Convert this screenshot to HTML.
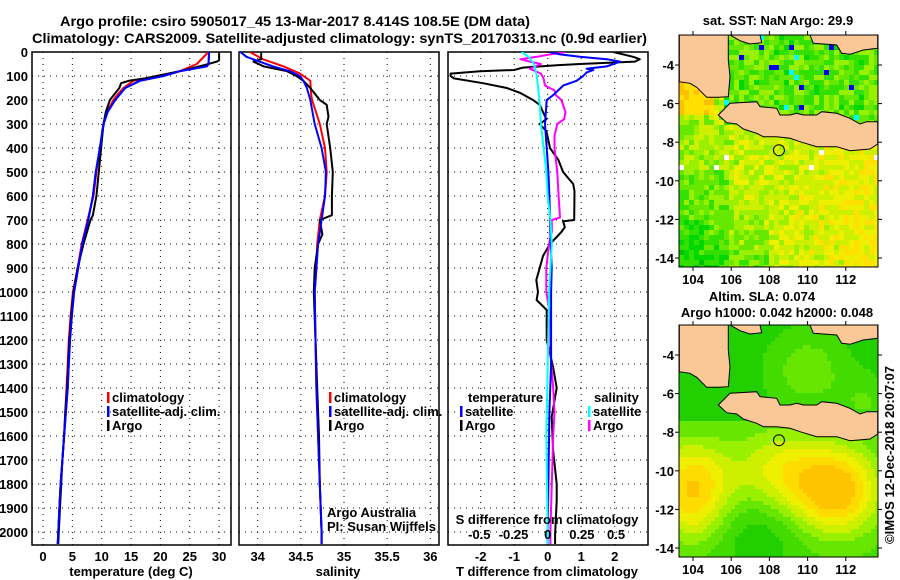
<!DOCTYPE html>
<html><head><meta charset="utf-8">
<style>
html,body{margin:0;padding:0;background:#fff;}
svg{display:block;font-family:"Liberation Sans",sans-serif;}
.b{font-weight:bold;font-size:14px;}
.t{font-weight:bold;font-size:13px;}
</style></head>
<body>
<svg id="chart" width="900" height="580" viewBox="0 0 900 580" xmlns="http://www.w3.org/2000/svg">
<text class="b" x="60" y="26" textLength="470" lengthAdjust="spacingAndGlyphs">Argo profile: csiro 5905017_45 13-Mar-2017 8.414S 108.5E (DM data)</text>
<text class="b" x="32" y="43" textLength="615" lengthAdjust="spacingAndGlyphs">Climatology: CARS2009. Satellite-adjusted climatology: synTS_20170313.nc (0.9d earlier)</text>
<g id="g"></g>
</svg>
<script>
// ---------- data ----------
const depthTicks=[0,100,200,300,400,500,600,700,800,900,1000,1100,1200,1300,1400,1500,1600,1700,1800,1900,2000];
const tTicks=[0,5,10,15,20,25,30];
const sTicks=[34,34.5,35,35.5,36];
const dTTicks=[-2,-1,0,1,2];
const dSTicks=[-0.5,-0.25,0,0.25,0.5];
const dSTickLabels=["-0.5","-0.25","0","0.25","0.5"];

const tArgoDepth=[0,20,35,40,55,80,100,110,120,130,150,200,250,300,400,500,600,680,700,800,900,1000,1100,1200,1300,1400,1500,1600,1700,1800,1900,2000,2050];
const tArgo=[30,30,30,29.6,27.4,23.3,19.4,17.4,14.6,13.3,13,11.4,10.7,10.3,9.9,9.5,9.1,8.5,8.1,6.9,5.9,5.2,4.8,4.5,4.3,4.1,3.8,3.6,3.3,3.1,2.9,2.7,2.6];
const climDepth=[0,50,80,100,120,150,180,200,250,300,400,500,600,700,800,900,1000,1100,1200,1300,1400,1500,1600,1700,1800,1900,2000,2050];
const tClim=[28.2,26.2,23.3,19.4,15.4,13.7,12.6,12,10.9,10.3,9.7,9.1,8.6,7.6,6.6,5.9,5.1,4.7,4.4,4.2,4.0,3.8,3.6,3.3,3.0,2.8,2.6,2.5];
const satDepth=[0,50,60,80,100,120,150,200,250,300,400,500,600,700,800,900,1000,1100,1200,1300,1400,1500,1600,1700,1800,1900,2000,2050];
const tSat=[28.3,28.2,27.9,23.3,20.5,16.5,14,12.3,11,10.3,9.7,9.0,8.5,7.7,6.7,6.0,5.3,4.9,4.6,4.4,4.2,3.9,3.6,3.3,3.0,2.8,2.6,2.5];

const sArgoDepth=[0,30,40,60,80,100,120,150,200,220,270,300,400,500,600,680,700,760,800,900,1000,1200,1400,1600,1800,2000,2050];
const sArgo=[34.04,34.04,33.95,34.07,34.34,34.45,34.53,34.61,34.72,34.8,34.82,34.8,34.84,34.87,34.86,34.86,34.72,34.75,34.70,34.66,34.65,34.67,34.69,34.71,34.72,34.74,34.74];
const sClimDepth=[0,30,60,90,120,180,200,300,400,500,600,700,800,900,1000,1200,1400,1600,1800,2000,2050];
const sClim=[33.91,34.06,34.30,34.49,34.61,34.62,34.63,34.72,34.78,34.8,34.78,34.72,34.69,34.68,34.66,34.67,34.68,34.70,34.72,34.74,34.74];
const sSatDepth=[0,20,40,60,80,100,120,150,200,300,400,500,600,700,800,900,1000,1200,1400,1600,1800,2000,2050];
const sSat=[33.80,33.87,34.02,34.18,34.37,34.49,34.53,34.57,34.61,34.66,34.74,34.79,34.78,34.74,34.70,34.68,34.66,34.67,34.68,34.70,34.72,34.74,34.74];

const dTArgoDepth=[0,20,30,40,50,55,65,75,80,90,100,110,130,150,170,200,220,250,280,300,330,400,450,500,550,580,700,705,730,750,800,850,900,950,1000,1033,1075,1200,1312,1400,1520,1660,1800,1870,2010,2050];
const dTArgo=[1.96,2.55,2.75,2.6,0.96,0.27,-0.74,-1.0,-2.02,-2.9,-2.9,-2.8,-1.93,-1.22,-0.83,-0.44,-0.24,-0.14,-0.04,-0.24,-0.04,0.07,0.32,0.46,0.76,0.8,0.79,0.46,0.51,0.41,0.07,-0.14,-0.24,-0.34,-0.29,-0.33,-0.03,-0.03,0.16,0.27,0.12,0.16,0.27,0.27,0.22,0.22];
const dTSatDepth=[0,10,20,30,40,50,60,70,75,85,100,120,140,180,200,300,400,500,600,700,800,900,1000,1300,1500,2000,2050];
const dTSat=[0.07,0.37,0.96,1.76,2.16,1.96,1.76,1.16,1.36,1.16,1.06,0.86,0.46,0.16,-0.03,-0.08,-0.03,0.02,0.05,0.07,0.09,0.12,0.1,0.1,0.05,0.0,0.0];
const dSArgoDepth=[0,10,20,30,40,50,70,90,110,140,160,180,200,250,280,300,350,400,450,500,600,690,700,750,800,900,1000,1100,1250,1400,1500,1600,1800,2000,2050];
const dSArgo=[0.13,0.02,-0.08,-0.2,-0.13,-0.05,-0.13,-0.05,-0.03,-0.02,0.05,0.06,0.10,0.13,0.12,0.07,0.05,0.05,0.06,0.07,0.08,0.09,0.03,0.03,0.01,-0.01,-0.01,0.02,0.02,0.04,0.05,0.04,0.03,0.02,0.02];
const dSSatDepth=[0,20,50,100,150,200,300,400,500,600,700,800,900,1000,1300,1600,2000,2050];
const dSSat=[-0.19,-0.14,-0.10,-0.08,-0.07,-0.06,-0.05,-0.03,-0.01,0.0,0.02,0.03,0.02,0.01,0.0,-0.01,0.0,0.0];

const lonTicks=[104,106,108,110,112];
const latTicks=[-4,-6,-8,-10,-12,-14];

// ---------- helpers ----------
const NS="http://www.w3.org/2000/svg";
const G=document.getElementById('g');
function el(tag,attrs,parent){const e=document.createElementNS(NS,tag);for(const k in attrs)e.setAttribute(k,attrs[k]);(parent||G).appendChild(e);return e;}
function txt(x,y,s,anchor,cls,parent){const e=el('text',{x:x,y:y,'text-anchor':anchor||'start','class':cls||'t'},parent);e.textContent=s;return e;}
const Y0=52,PY=0.24;
function yD(d){return Y0+d*PY;}
const yBot=545;
const xT=v=>43+v*5.87;
const xS=v=>257.7+(v-34)*86.3;
const xDT=v=>547.7+v*33.5;
const xDS=v=>547.7+v*136.7;

function panel(x0,x1,name,xTicksArr,xfn,labels,showDepth){
  const p=el('g',{});
  
  
  for(const d of depthTicks){ if(d===0) continue;
    const l=el('line',{x1:x0,x2:x1,y1:yD(d),y2:yD(d),stroke:'#000','stroke-width':1,'stroke-dasharray':'1,5'},p);
    
    
  }
  xTicksArr.forEach((v,i)=>{const x=xfn(v);
    const l=el('line',{x1:x,x2:x,y1:Y0,y2:yBot,stroke:'#000','stroke-width':1,'stroke-dasharray':'1,5'},p);
    
    
    if(labels){const t=txt(x,561,labels[i],'middle','t',p);
      
      }
  });
  const r=el('rect',{x:x0,y:Y0,width:x1-x0,height:yBot-Y0,fill:'none',stroke:'#000','stroke-width':1.5},p);
  
  
  if(showDepth){ for(const d of depthTicks){const t=txt(28,yD(d)+5,String(d),'end','t',p);
    
    }
    el('line',{x1:28,x2:28,y1:Y0,y2:Y0,stroke:'none'},p);
  }
  return p;
}
function series(depths,vals,xfn,color,w,name,clipId){
  const pts=depths.map((d,i)=>xfn(vals[i]).toFixed(1)+','+yD(d).toFixed(1)).join(' ');
  const e=el('polyline',{points:pts,fill:'none',stroke:color,'stroke-width':w,'stroke-linejoin':'round','clip-path':'url(#'+clipId+')'});
  
  
  return e;
}
const defs=el('defs',{});
function clip(id,x0,x1){const c=el('clipPath',{id:id},defs);el('rect',{x:x0,y:Y0,width:x1-x0,height:yBot-Y0},c);}
clip('c1',32,231);clip('c2',239,439);clip('c3',448,648);

// Panel 1
panel(32,231,'temperature-panel',tTicks,xT,tTicks.map(String),true);
series(tClimDepth=climDepth,tClim,xT,'#ff0000',2,'temperature-climatology-line','c1');
series(satDepth,tSat,xT,'#0000ff',2,'temperature-satellite-line','c1');
series(tArgoDepth,tArgo,xT,'#000000',2,'temperature-argo-line','c1');
// redraw blue/red on top partially (they overlap at depth)
series(satDepth,tSat,xT,'#0000ff',2,'temperature-satellite-line-top','c1');
let t=txt(131,576,'temperature (deg C)','middle','t');


// Panel 2
panel(239,439,'salinity-panel',sTicks,xS,['34','34.5','35','35.5','36'],false);
series(sClimDepth,sClim,xS,'#ff0000',2,'salinity-climatology-line','c2');
series(sArgoDepth,sArgo,xS,'#000000',2,'salinity-argo-line','c2');
series(sSatDepth,sSat,xS,'#0000ff',2,'salinity-satellite-line','c2');
t=txt(338,576,'salinity','middle','t');


// Panel 3
panel(448,648,'difference-panel',dTTicks,xDT,['-2','-1','0','1','2'],false);
series(dTArgoDepth,dTArgo,xDT,'#000000',2,'t-diff-argo-line','c3');
series(dSArgoDepth,dSArgo,xDS,'#ff00ff',2,'s-diff-argo-line','c3');
series(dTSatDepth,dTSat,xDT,'#0000ff',2,'t-diff-satellite-line','c3');
series(dSSatDepth,dSSat,xDS,'#00ffff',2,'s-diff-satellite-line','c3');
t=txt(547,576,'T difference from climatology','middle','t');

t=txt(547,524,'S difference from climatology','middle','t');

dSTicks.forEach((v,i)=>{const tt=txt(xDS(v),539,dSTickLabels[i],'middle','t');
  });

// Legends
function legItem(x,y,color,label,name){
  const g=el('g',{});
  
  
  el('rect',{x:x,y:y-10,width:2.5,height:11,fill:color},g);
  txt(x+5,y,label,'start','t',g);
}
legItem(107,402,'#ff0000','climatology','legend-entry-climatology');
legItem(107,416,'#0000ff','satellite-adj. clim.','legend-entry-satellite-adj');
legItem(107,430,'#000000','Argo','legend-entry-argo');
legItem(329,402,'#ff0000','climatology','legend-entry-climatology-s');
legItem(329,416,'#0000ff','satellite-adj. clim.','legend-entry-satellite-adj-s');
legItem(329,430,'#000000','Argo','legend-entry-argo-s');
t=txt(468,402,'temperature','start','t');
legItem(460,416,'#0000ff','satellite','legend-entry-t-satellite');
legItem(460,430,'#000000','Argo','legend-entry-t-argo');
t=txt(594,402,'salinity','start','t');
legItem(588,416,'#00ffff','satellite','legend-entry-s-satellite');
legItem(588,430,'#ff00ff','Argo','legend-entry-s-argo');
t=txt(327,517,'Argo Australia','start','');t.setAttribute('font-size','12');
t=txt(327,531,'PI: Susan Wijffels','start','');t.setAttribute('font-size','12');

// ---------- maps ----------
const MX0=679,MX1=878;
const lonX=lon=>693+(lon-104)*19.1;
function mapBox(top,name){return {top:top,latY:lat=>top+30+(-4-lat)*19.3,name:name};}
const m1=mapBox(35,'sst-map'), m2=mapBox(325,'sla-map');
const H=232;
// land polygons in zoom-coords (x=650+zx/3, y=top+(zy-105)/3)
const land=[
 [[88,105],[235,105],[235,180],[240,230],[235,290],[205,292],[170,292],[140,262],[120,250],[88,245]],
 [[240,105],[330,105],[335,128],[300,132],[270,122]],
 [[372,105],[480,105],[490,130],[560,135],[575,160],[600,163],[640,150],[683,145],[683,105]],
 [[205,345],[240,310],[320,305],[330,320],[380,325],[390,345],[420,345],[440,340],[460,345],[500,345],[515,335],[560,340],[600,355],[630,372],[650,365],[683,365],[683,432],[660,447],[600,452],[560,440],[500,440],[450,425],[420,415],[380,410],[340,410],[320,400],[280,387],[260,372],[230,368]]
];
function hash(i,j){let h=(i*374761393+j*668265263)^0x5bd1e995;h=(h^(h>>>13))*1274126177;h=h^(h>>>16);return ((h>>>0)%1000)/1000;}
const sstPal=['#0000ee','#00ffff','#00c000','#00d800','#33e000','#66e800','#99f000','#ccf000','#eef000','#ffe000','#ffc000'];
const slaPal=['#00c000','#22d000','#44dc00','#66e600','#99f000','#ccf000','#eef000','#ffdc00','#ffc400'];
function drawMap(m,kind){
  const g=el('g',{});
  
  
  const cid='clip-'+m.name;
  const c=el('clipPath',{id:cid},defs);el('rect',{x:MX0,y:m.top,width:MX1-MX0,height:H},c);
  const inner=el('g',{'clip-path':'url(#'+cid+')'},g);
  el('rect',{x:MX0,y:m.top,width:MX1-MX0,height:H,fill:'#fff'},inner);
  const step=kind==='sst'?5:4;
  for(let i=0;i*step<MX1-MX0;i++){for(let j=0;j*step<H;j++){
    const x=MX0+i*step,y=m.top+j*step;
    const lon=104+(x+step/2-693)/19.1, lat=-4-(y+step/2-m.top-30)/19.3;
    let col;
    if(kind==='sst'){
      const r=hash(i,j);
      let v;
      if(lat>-7.2 && lon>105.5){v=3.3+r*3.2; if(r>0.985)v=0; else if(r>0.96)v=1;}
      else {v=6.2+ (lon-104)*0.2 - Math.max(0,(-lat-11))*0.5*(lon<108?1:0) + (r-0.5)*2.6;
        if(lon<106 && lat<-9.5) v-=1.2;}
      if(lat>-6.5 && lon<105) v=8.5+r*1.5;
      v=Math.max(0,Math.min(10,Math.round(v)));
      col=sstPal[v];
      if(r>0.975 && lat<-7.5 && lat>-9.5) col='#ffffff';
    } else {
      const gs=(a,b,s,amp)=>amp*Math.exp(-((lon-a)**2+(lat-b)**2)/(2*s*s));
      let v=2+gs(104,-10.5,1.5,5)+gs(111.5,-11,1.6,6.5)+gs(108.5,-10,1.6,3.5)-gs(107.5,-13.2,1.5,1.5)+gs(104,-12.5,1.2,2);
      if(lat>-7.5){v=1+gs(110,-4.8,1.4,2.2)+gs(113,-6.5,1,1.5);}
      v=Math.max(0,Math.min(8,Math.round(v)));
      col=slaPal[v];
    }
    el('rect',{x:x,y:y,width:step,height:step,fill:col},inner);
  }}
  land.forEach((poly,k)=>{
    const pts=poly.map(p=>(650+p[0]/3).toFixed(1)+','+(m.top+(p[1]-105)/3).toFixed(1)).join(' ');
    const pl=el('polygon',{points:pts,fill:'#f9c896',stroke:'#000','stroke-width':1},inner);
    
    
  });
  const circ=el('circle',{cx:lonX(108.5),cy:m.latY(-8.414),r:5.5,fill:'none',stroke:'#000','stroke-width':1},g);
  
  
  el('rect',{x:MX0,y:m.top,width:MX1-MX0,height:H,fill:'none',stroke:'#000','stroke-width':1},g);
  lonTicks.forEach(l=>{const x=lonX(l);
    el('line',{x1:x,x2:x,y1:m.top+H,y2:m.top+H+4,stroke:'#000'},g);
    el('line',{x1:x,x2:x,y1:m.top,y2:m.top-4,stroke:'#000'},g);
    const tt=txt(x,m.top+H+17,String(l),'middle','t',g);
    });
  latTicks.forEach(l=>{const y=m.latY(l);
    el('line',{x1:MX0-4,x2:MX0,y1:y,y2:y,stroke:'#000'},g);
    el('line',{x1:MX1,x2:MX1+4,y1:y,y2:y,stroke:'#000'},g);
    const tt=txt(674,y+5,String(l),'end','t',g);
    });
}
drawMap(m1,'sst');
drawMap(m2,'sla');
t=txt(778,25,'sat. SST: NaN Argo: 29.9','middle','t');
t=txt(762,301,'Altim. SLA: 0.074','middle','t');
t=txt(777,317,'Argo h1000: 0.042 h2000: 0.048','middle','t');
t=txt(0,0,'©IMOS 12-Dec-2018 20:07:07','middle','');t.setAttribute('font-size','13');
t.setAttribute('transform','translate(894,455) rotate(-90)');

</script>
</body></html>
